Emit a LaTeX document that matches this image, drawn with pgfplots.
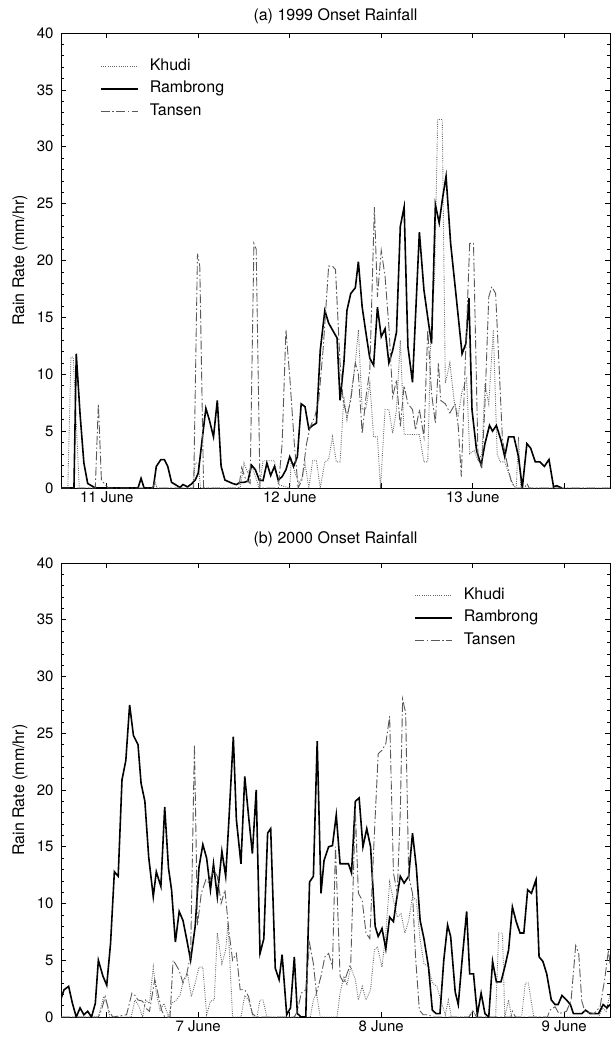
\documentclass[border=0pt]{standalone}
\usepackage{pgfplots}
\pgfplotsset{compat=1.18}
\usepackage{fontspec}
\setmainfont{TeX Gyre Heros}
\pgfplotsset{
  panel/.style={
    scale only axis, width=549bp,
    xmin=0, xmax=72, ymin=0, ymax=40,
    xtick={6,18,30,42,54,66},
    ytick={0,5,...,40}, minor y tick num=4,
    tick pos=both, tick align=inside,
    major tick length=5bp, minor tick length=3bp,
    axis line style={line width=0.9bp},
    every tick/.style={black, line width=0.6bp},
    /pgf/number format/assume math mode=true,
    ticklabel style={font=\fontsize{15bp}{17bp}\selectfont},
    yticklabel style={xshift=-4bp},
    ylabel={Rain Rate (mm/hr)},
    label style={font=\fontsize{16bp}{18bp}\selectfont},
    ylabel style={at={(axis description cs:-0.0747,0.5)}, anchor=center},
    title style={font=\fontsize{16bp}{18bp}\selectfont, anchor=center},
    legend cell align=left,
    legend image code/.code={\draw[#1] (0bp,0bp) -- (37bp,0bp);},
    legend style={draw=none, fill=none, inner sep=0bp, row sep=6.5bp,
      font=\fontsize{16bp}{18bp}\selectfont,
      nodes={inner sep=0bp, text height=12bp, text depth=4bp},
      /tikz/every odd column/.append style={column sep=11bp}},
  },
  khudi/.style={black!60, line width=0.9bp, dash pattern=on 0.9bp off 1.3bp},
  ramb/.style={black, line width=1.6bp},
  tansen/.style={black!65, line width=0.9bp, dash pattern=on 9bp off 2.5bp on 1.5bp off 2.5bp},
}
\begin{document}
\begin{tikzpicture}
\path[use as bounding box] (0bp,0bp) rectangle (612bp,-1040bp);
% ---------------- (a) 1999
\begin{axis}[panel, height=455bp, at={(61bp,-488bp)}, anchor=south west,
  xticklabels={11 June,,12 June,,13 June,},
  title={(a) 1999 Onset Rainfall},
  title style={at={(axis description cs:0.5,1.024)}},
  legend style={at={(axis description cs:0.071,0.945)}, anchor=north west}]
\addplot[khudi] coordinates {
(0,0) (0.9,0) (1.3,11.5) (1.6,11.5) (2.4,0) (12.0,0) (12.3,0.6) (12.6,0) (17.3,0) (17.6,2.2) (18.0,2.2) (18.3,0) (23.5,0) (24.0,2.2) (24.5,1.3) (25.0,2.0) (25.5,1.0) (26.0,0) (26.5,2.4) (28.0,2.4) (28.5,0.3) (30.0,0) (30.2,2.5) (30.7,1.3) (31.2,0.4) (31.7,1.0) (32.0,2.2) (32.5,0) (33.0,2.4) (33.5,2.4) (34.0,0) (34.6,2.3) (35.1,2.5) (35.6,4.5) (36.1,2.3) (36.6,2.3) (37.1,8.0) (37.5,6.0) (38.0,8.0) (38.6,11.0) (39.0,13.9) (39.5,6.9) (40.0,7.0) (40.5,9.2) (41.0,4.5) (41.5,4.5) (41.9,0) (42.5,6.9) (43.0,6.9) (43.5,4.8) (44.0,6.9) (44.5,13.0) (45.0,4.7) (47.0,4.7) (47.6,2.3) (48.1,2.3) (48.5,13.3) (49.0,18.6) (49.4,32.4) (50.0,32.4) (50.4,9.2) (51.0,11.0) (51.6,7.4) (52.1,6.4) (52.6,8.5) (53.2,9.6) (53.6,3.0) (54.2,3.3) (54.7,2.4) (55.2,3.0) (55.6,9.2) (56.1,7.4) (56.7,13.9) (57.2,3.0) (57.6,2.3) (58.2,2.3) (58.7,1.3) (59.3,0.3) (59.7,0) (60.0,4.5) (60.3,0) (72,0)
};
\addlegendentry{Khudi}
\addplot[ramb] coordinates {
(0,0) (1.7,0) (2.0,11.8) (2.5,6.5) (3.0,2.2) (3.5,0.4) (4.0,0.2) (4.5,0) (10.1,0) (10.5,0.85) (10.9,0) (12.1,0) (12.5,1.9) (13.1,2.5) (13.55,2.5) (14,1.9) (14.5,0.5) (15,0.3) (15.6,0.05) (16,0.3) (16.6,0.1) (17.1,0.35) (17.6,0.7) (18,1.3) (18.5,4.2) (19,7.0) (19.45,6.0) (20,4.5) (20.5,7.7) (21,1.9) (21.5,0.7) (22,0.55) (22.5,0.4) (23,0.3) (23.5,0.5) (24,0.5) (24.5,0.6) (25,2.0) (25.5,1.6) (26,0.7) (26.5,0.65) (27,2.2) (27.5,1.1) (28,1.9) (28.5,0.7) (29,1.0) (29.5,1.6) (30,2.75) (30.5,1.9) (31,2.75) (31.5,7.4) (32,7.15) (32.5,5.2) (33,5.5) (33.5,5.7) (34,12.1) (34.6,15.6) (35.1,14.5) (35.6,13.9) (36.2,13.2) (36.6,7.7) (37.1,11.0) (37.5,15.6) (38,17.1) (38.6,17.6) (39,19.9) (39.5,15.9) (40,13.6) (40.5,11.4) (41,10.8) (41.5,15.9) (42,13.3) (42.5,14.0) (43,11.0) (43.5,12.1) (44,13.7) (44.5,23.0) (45,24.7) (45.5,12.4) (46.1,9.3) (47,22.5) (47.6,17.4) (48.2,14.5) (48.6,12.7) (49.1,24.9) (49.6,23.3) (50,25.3) (50.5,27.4) (51.1,21.5) (51.8,17.0) (52.6,11.8) (53.1,12.7) (53.5,16.7) (53.9,6.9) (54.5,3.3) (55.1,2.0) (55.6,3.9) (56.2,5.5) (56.6,5.0) (57.1,5.5) (57.7,4.2) (58.2,2.75) (58.7,4.5) (59.4,4.5) (60,2.75) (60.5,0) (61.1,3.9) (61.6,3.5) (62.2,2.3) (62.8,2.3) (63.4,1.9) (64,2.5) (64.6,0.1) (65,0.2) (65.7,0)
};
\addlegendentry{Rambrong}
\addplot[tansen] coordinates {
(0,0) (4.5,0) (4.9,7.4) (5.3,0.7) (5.8,0.3) (6.2,0) (12.0,0) (12.3,0.5) (12.6,0) (17.4,0) (17.9,20.6) (18.2,19.5) (18.7,0) (23.3,0) (23.7,1.8) (24.2,0.8) (24.8,0.4) (25.3,21.5) (25.6,21.0) (26.1,0) (28.5,0) (29.0,3.9) (29.5,13.9) (30.0,9.8) (30.6,3.9) (31.1,0) (31.6,0.7) (32.2,3.9) (32.7,5.4) (33.3,6.3) (33.8,7.7) (34.4,12.4) (35.1,19.5) (35.6,19.5) (36.0,19.2) (36.6,11.0) (37.0,7.7) (37.5,6.3) (38.0,7.7) (38.6,11.0) (39.0,10.0) (39.5,4.8) (40.0,8.0) (40.5,10.4) (41.1,24.7) (41.5,16.8) (42.0,20.9) (42.5,18.6) (43.0,14.2) (43.5,8.0) (44.0,9.5) (44.5,5.4) (45.0,9.0) (45.5,7.4) (46.1,6.9) (46.5,5.1) (47.0,6.9) (47.6,4.5) (48.1,13.9) (48.6,8.3) (49.1,5.7) (49.5,11.0) (49.8,7.7) (50.4,7.4) (51.0,6.6) (51.7,7.4) (52.1,5.4) (52.5,1.0) (53.0,10.7) (53.6,21.5) (54.1,21.5) (54.7,2.5) (55.2,1.9) (55.6,7.4) (56.1,16.8) (56.5,17.7) (57.0,17.1) (57.5,10.0) (57.9,4.2) (58.5,2.2) (59.0,0.7) (59.5,0) (60.8,0) (61.1,0.4) (61.4,0) (72,0)
};
\addlegendentry{Tansen}
\end{axis}
% ---------------- (b) 2000
\begin{axis}[panel, height=454bp, at={(61bp,-1017bp)}, anchor=south west,
  xticklabels={,7 June,,8 June,,9 June},
  title={(b) 2000 Onset Rainfall},
  title style={at={(axis description cs:0.5,1.040)}},
  legend style={at={(axis description cs:0.643,0.947)}, anchor=north west}]
\addplot[khudi] coordinates {
(0,0) (4.9,0) (5.6,1.8) (6.0,1.2) (6.4,0) (9.2,0) (9.7,1.5) (10.2,1.0) (10.7,0) (11.1,1.5) (11.6,1.2) (12.1,4.4) (12.5,2.1) (13.0,0.6) (13.5,1.2) (14.1,0) (14.5,1.2) (15.0,1.4) (15.6,1.9) (16.1,3.3) (16.6,3.8) (17.1,1.8) (17.6,3.0) (18.1,4.4) (18.6,4.4) (19.1,0.2) (19.6,1.4) (20.1,1.5) (20.5,7.4) (21.1,4.7) (21.6,5.9) (21.9,8.3) (22.5,0) (23.6,0) (24.1,1.9) (24.6,1.5) (25.2,0) (25.7,0) (26.1,1.5) (26.5,1.5) (27.0,0) (32.7,0) (33.1,1.5) (33.5,2.1) (34.0,0) (36.2,0) (36.6,2.1) (37.1,3.6) (37.5,2.8) (38.0,4.4) (38.6,3.3) (39.0,1.5) (39.5,2.7) (40.0,1.5) (40.6,2.4) (41.1,5.9) (41.5,6.2) (42.1,4.4) (42.6,7.4) (43.1,11.9) (43.6,10.3) (44.1,8.8) (44.6,9.1) (45.1,7.4) (45.6,8.5) (46.1,10.6) (46.6,10.3) (47.1,6.8) (47.6,4.7) (48.2,4.4) (48.7,3.0) (49.3,2.7) (49.8,1.5) (50.4,0.2) (50.8,1.5) (51.2,0) (53.5,0) (54.0,0.6) (54.5,0) (57.0,0) (57.4,7.4) (57.9,7.4) (58.2,0) (58.7,1.5) (59.1,0) (60.4,0) (60.9,3.0) (61.3,3.0) (62.0,0) (70.5,0) (71.0,0.8) (71.5,0.5) (72.0,2.0)
};
\addlegendentry{Khudi}
\addplot[ramb] coordinates {
(0,1.6) (0.4,2.4) (1.0,2.7) (1.5,1.2) (2.0,0) (2.5,0.8) (3.0,0.2) (3.5,0.5) (4.0,0) (4.5,1.2) (4.9,5.0) (5.5,3.6) (6.0,2.8) (6.5,6.5) (7.0,12.8) (7.5,12.4) (8.0,20.9) (8.5,22.6) (9.0,27.5) (9.5,24.8) (10.1,24.0) (10.5,20.6) (11.0,19.0) (11.5,14.1) (12.1,10.6) (12.5,12.8) (13.1,11.5) (13.6,18.5) (14.1,13.1) (14.5,11.2) (15.0,6.6) (15.5,9.3) (16.0,8.5) (16.5,6.8) (17.0,5.0) (17.6,8.0) (18.1,13.2) (18.6,15.2) (19.1,14.0) (19.6,11.2) (20.0,13.5) (20.5,10.6) (21.1,14.6) (21.6,12.4) (22.0,17.1) (22.6,24.7) (23.0,17.4) (23.6,13.5) (24.1,21.2) (24.6,17.7) (25.1,14.4) (25.6,20.0) (26.1,5.6) (26.6,6.9) (27.1,16.2) (27.5,16.6) (28.1,4.3) (28.6,3.3) (29.0,5.5) (29.6,0.2) (30.1,0.8) (30.6,5.3) (31.0,0.3) (31.5,0) (32.1,0) (32.6,11.9) (33.1,12.4) (33.6,24.3) (34.1,10.9) (34.5,13.8) (35.1,15.0) (35.6,15.1) (36.1,17.8) (36.6,13.5) (37.1,13.5) (37.7,13.5) (38.1,12.7) (38.6,19.0) (39.1,19.3) (39.6,15.0) (40.1,16.6) (40.6,15.0) (41.2,8.0) (41.6,7.1) (42.1,7.8) (42.6,6.0) (43.1,8.8) (43.6,8.4) (44.0,10.3) (44.5,12.4) (45.0,11.8) (45.6,12.4) (46.1,16.2) (46.6,13.2) (47.1,8.5) (47.6,6.9) (48.2,4.4) (48.7,0.6) (49.2,0.3) (49.7,0.3) (50.2,5.0) (50.7,8.1) (51.1,7.1) (51.7,2.2) (52.1,1.1) (52.6,5.0) (53.2,9.3) (53.6,3.8) (54.1,3.8) (54.6,0.2) (55.1,2.1) (55.6,0.3) (56.1,0) (56.6,4.9) (57.1,3.1) (57.7,3.1) (58.2,4.4) (58.7,5.9) (59.2,9.7) (59.7,8.4) (60.2,7.4) (60.7,7.4) (61.2,11.2) (61.7,10.9) (62.3,12.1) (62.7,5.3) (63.2,4.9) (63.7,3.8) (64.3,1.5) (64.8,1.1) (65.2,1.1) (65.7,1.9) (66.3,1.5) (66.8,1.1) (67.2,0.3) (67.7,0.3) (68.3,0.3) (68.8,0.6) (69.4,0.3) (69.9,0.3) (70.5,0.3) (71.1,1.1) (71.6,0.8) (72.0,1.1)
};
\addlegendentry{Rambrong}
\addplot[tansen] coordinates {
(0,0) (4.9,0) (5.3,0.6) (5.8,1.8) (6.3,0.5) (6.8,0) (8.6,0.2) (9.3,2.1) (9.7,1.9) (10.1,1.5) (10.7,1.4) (11.1,0.8) (11.6,0.5) (12.3,3.3) (12.8,1.8) (13.2,0.6) (13.6,0) (14.3,0) (14.7,5.0) (15.0,4.7) (15.5,4.1) (16.0,3.0) (16.5,3.8) (17.0,5.5) (17.5,24.0) (17.9,8.1) (18.4,10.9) (19.0,12.1) (19.4,11.8) (20.0,13.0) (20.5,12.4) (21.0,10.0) (21.5,11.2) (22.0,7.7) (22.5,5.0) (23.0,5.6) (23.5,2.4) (24.1,2.4) (24.6,1.8) (25.1,0.3) (25.6,0) (30.6,0) (31.0,0.5) (31.5,2.1) (32.1,2.4) (32.6,6.5) (33.1,4.7) (33.5,2.1) (34.1,3.6) (34.6,5.3) (35.1,5.6) (35.6,4.4) (36.0,15.0) (36.6,3.6) (37.1,3.0) (37.5,3.8) (38.0,4.7) (38.6,18.2) (39.0,10.9) (39.5,10.3) (40.0,7.4) (40.5,6.9) (41.0,14.7) (41.6,23.2) (42.1,23.5) (42.6,24.1) (43.1,26.5) (43.6,12.7) (44.1,10.9) (44.5,18.2) (44.8,28.0) (45.2,26.8) (45.6,12.4) (46.1,10.9) (46.5,5.3) (47.0,0.6) (47.5,0.2) (48.2,0.2) (48.7,0) (53.5,0) (54.0,0.5) (54.5,0) (59.0,0) (59.2,0.5) (59.6,0) (63.8,0) (64.1,0.6) (64.8,0.9) (65.3,0.3) (66.3,0.5) (66.9,1.5) (67.5,6.3) (67.9,5.6) (68.3,1.4) (68.7,0.5) (69.9,0.3) (70.7,0.9) (71.3,3.3) (71.8,5.9) (72.0,4.7)
};
\addlegendentry{Tansen}
\end{axis}
\end{tikzpicture}
\end{document}
